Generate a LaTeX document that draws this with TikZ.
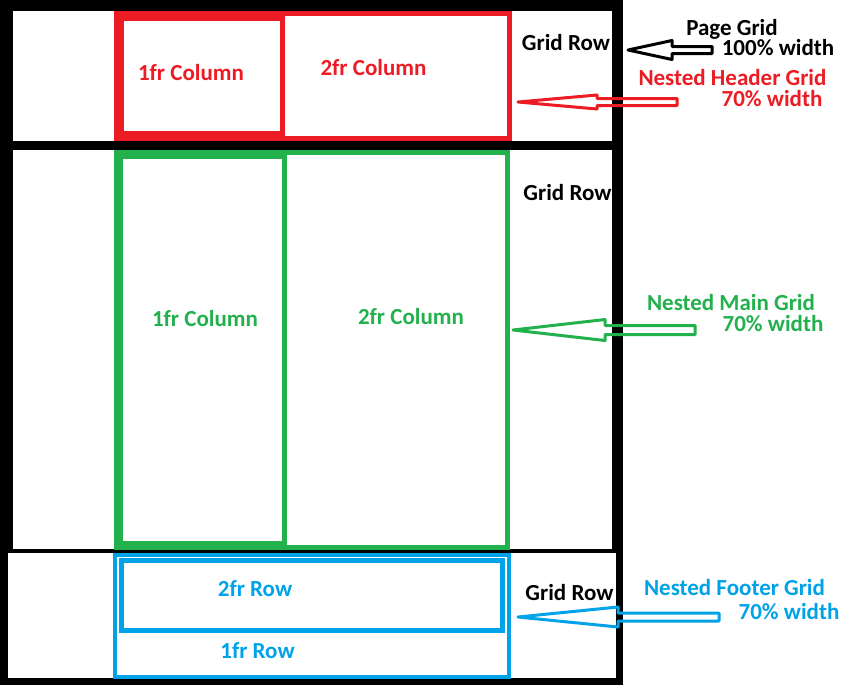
\documentclass[tikz,border=0pt]{standalone}
\usepackage{fontspec}
\setmainfont{Carlito}
\definecolor{hdrred}{HTML}{ED1C24}
\definecolor{maingreen}{HTML}{22B14C}
\definecolor{ftrblue}{HTML}{00A2E8}

\begin{document}
\begin{tikzpicture}[
		x=1pt, y=-1pt,
		cell/.style={fill=white},
		redbox/.style={draw=hdrred},
		greenbox/.style={draw=maingreen},
		bluebox/.style={draw=ftrblue},
		txt/.style={inner sep=0pt, anchor=base, font=\fontsize{23}{26}\selectfont\bfseries},
		pointer/.style={line width=3, line join=round}
		]
		\useasboundingbox[fill=white] (0,0) rectangle (845,694);

		% Page grid (black frame, three rows)
		\fill[black] (0,0) rectangle (623,685);
		\fill[cell] (13,11) rectangle (612,141);
		\fill[cell] (13,150) rectangle (612,549);
		\fill[cell] (8,553) rectangle (616,678);

		% Nested header grid
		\draw[redbox, line width=10] (285,16) -- (119,16) -- (119,136) -- (285,136);
		\draw[redbox, line width=5] (282.5,13.5) rectangle (509.5,138.5);

		% Nested main grid
		\draw[greenbox, line width=9] (287,154.5) -- (118.5,154.5) -- (118.5,545.5) -- (287,545.5);
		\draw[greenbox, line width=5] (284.5,152.5) rectangle (507.5,547.5);

		% Nested footer grid
		\draw[bluebox, line width=4] (115,555) rectangle (509,677);
		\draw[bluebox, line width=5] (121.5,560.5) rectangle (502.5,630.5);

		% Column and row labels
		\node[txt, text=hdrred] (hdrcol1) at (191,80) {1fr Column};
		\node[txt, text=hdrred] (hdrcol2) at (373.5,75) {2fr Column};
		\node[txt, text=maingreen] (maincol1) at (205,326) {1fr Column};
		\node[txt, text=maingreen] (maincol2) at (411,324) {2fr Column};
		\node[txt, text=ftrblue] (ftrrow2) at (255,596) {2fr Row};
		\node[txt, text=ftrblue] (ftrrow1) at (257.5,658) {1fr Row};

		% Grid rows
		\node[txt] (row1) at (566,50) {Grid Row};
		\node[txt] (row2) at (567.5,200) {Grid Row};
		\node[txt] (row3) at (569.5,600) {Grid Row};

		% Side notes
		\node[txt] (pagegrid) at (732,35) {Page Grid};
		\node[txt] (pagewidth) at (778,55) {100\% width};
		\node[txt, text=hdrred] (hdrgrid) at (732.5,85) {Nested Header Grid};
		\node[txt, text=hdrred] (hdrwidth) at (772,106) {70\% width};
		\node[txt, text=maingreen] (maingrid) at (731,310) {Nested Main Grid};
		\node[txt, text=maingreen] (mainwidth) at (773,331) {70\% width};
		\node[txt, text=ftrblue] (ftrgrid) at (734.5,595) {Nested Footer Grid};
		\node[txt, text=ftrblue] (ftrwidth) at (789,619) {70\% width};

		% Arrow tips
		\coordinate (pagetip) at (628,50);
		\coordinate (hdrtip) at (518,102);
		\coordinate (maintip) at (513,330);
		\coordinate (ftrtip) at (518,617);

		% Hollow arrows
		\draw[pointer] (pagetip) -- ++(44,-9.5) -- ++(0,6) -- ++(40,0) -- ++(0,7) -- ++(-40,0) -- ++(0,6) -- cycle;
		\draw[pointer, hdrred] (hdrtip) -- ++(79,-7) -- ++(0,3.5) -- ++(80,0) -- ++(0,7) -- ++(-80,0) -- ++(0,3.5) -- cycle;
		\draw[pointer, maingreen] (maintip) -- ++(92,-10.5) -- ++(0,6) -- ++(90,0) -- ++(0,9) -- ++(-90,0) -- ++(0,6) -- cycle;
		\draw[pointer, ftrblue] (ftrtip) -- ++(100,-10) -- ++(0,6) -- ++(101,0) -- ++(0,8) -- ++(-101,0) -- ++(0,6) -- cycle;

	\end{tikzpicture}
\end{document}
